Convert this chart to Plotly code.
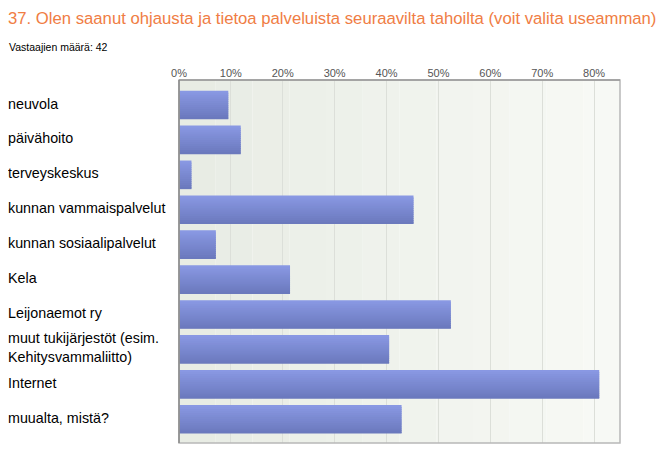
import plotly.graph_objects as go

categories = [
    "neuvola",
    "päivähoito",
    "terveyskeskus",
    "kunnan vammaispalvelut",
    "kunnan sosiaalipalvelut",
    "Kela",
    "Leijonaemot ry",
    "muut tukijärjestöt (esim.<br>Kehitysvammaliitto)",
    "Internet",
    "muualta, mistä?",
]
percent = [9.5, 11.9, 2.4, 45.2, 7.1, 21.4, 52.4, 40.5, 81.0, 42.9]
tick_vals = [0, 10, 20, 30, 40, 50, 60, 70, 80]
tick_text = ["0%", "10%", "20%", "30%", "40%", "50%", "60%", "70%", "80%"]
title_text = "37. Olen saanut ohjausta ja tietoa palveluista seuraavilta tahoilta (voit valita useamman)"
subtitle_text = "Vastaajien määrä: 42"

FONT = "Liberation Sans, Arial, sans-serif"
PAD = 8  # page body margin
W, H = 672 - PAD, 453 - PAD
ML, MR, MT, MB = 179 - PAD, 52, 80 - PAD, 10
PW = W - ML - MR
PH = H - MT - MB

fig = go.Figure()

# bar drawn as horizontal slices to mimic the vertical gradient
BW = 0.82
NS = 14
top = (137, 152, 227)
bot = (107, 121, 189)
for s in range(NS):
    t = s / (NS - 1)
    c = tuple(int(round(top[k] + (bot[k] - top[k]) * t)) for k in range(3))
    extra = 0.04 if s < NS - 1 else 0.0
    fig.add_trace(go.Bar(
        x=percent, y=categories, orientation="h",
        width=BW / NS + extra, offset=-BW / 2 + s * BW / NS,
        marker=dict(color="rgb(%d,%d,%d)" % c, line=dict(width=0)),
        hoverinfo="x+y" if s == 0 else "skip",
    ))

# background gradient stripes (styling)
shapes = []
n = 12
c0 = (232, 236, 228)
c1 = (247, 249, 245)
for i in range(n):
    t = i / (n - 1)
    c = tuple(int(round(c0[k] + (c1[k] - c0[k]) * t)) for k in range(3))
    shapes.append(dict(type="rect", xref="paper", yref="paper",
                       x0=i / n, x1=(i + 1) / n, y0=0, y1=1,
                       fillcolor="rgb(%d,%d,%d)" % c, line=dict(width=0), layer="below"))
shapes.append(dict(type="rect", xref="paper", yref="paper", x0=0, x1=1, y0=0, y1=1,
                   line=dict(color="#b8b8b8", width=1.5), fillcolor="rgba(0,0,0,0)", layer="above"))
shapes.append(dict(type="line", xref="paper", yref="paper", x0=0, x1=1, y0=1, y1=1,
                   line=dict(color="#999999", width=1.5), layer="above"))
shapes.append(dict(type="line", xref="paper", yref="paper", x0=0, x1=0, y0=0, y1=1,
                   line=dict(color="#888888", width=1.5), layer="above"))

annotations = [
    dict(text=title_text, xref="paper", yref="paper",
         x=-(ML - 6 + PAD) / PW, y=1 + (MT - 18 + PAD) / PH,
         xanchor="left", yanchor="middle", showarrow=False,
         font=dict(family=FONT, size=16.7, color="#f07d44")),
    dict(text=subtitle_text, xref="paper", yref="paper",
         x=-(ML - 7 + PAD) / PW, y=1 + (MT - 47 + PAD) / PH,
         xanchor="left", yanchor="middle", showarrow=False,
         font=dict(family=FONT, size=10.5, color="#000000")),
]
for cat in categories:
    annotations.append(dict(
        text=cat, xref="paper", yref="y", x=-(ML - 6 + PAD) / PW, y=cat,
        yshift=1.5,
        xanchor="left", yanchor="middle", align="left", showarrow=False,
        font=dict(family=FONT, size=14.3, color="#000000")))

fig.update_layout(
    width=W, height=H,
    margin=dict(l=ML, r=MR, t=MT, b=MB),
    paper_bgcolor="white",
    plot_bgcolor="rgba(0,0,0,0)",
    showlegend=False,
    shapes=shapes,
    annotations=annotations,
    barmode="overlay",
    xaxis=dict(range=[0, 85], side="top", tickvals=tick_vals, ticktext=tick_text,
               showgrid=True, gridcolor="#dcdfd9", gridwidth=1, zeroline=False,
               ticks="", tickfont=dict(family=FONT, size=11, color="#555555"),
               fixedrange=True),
    yaxis=dict(categoryorder="array", categoryarray=categories, range=[9.68, -0.716],
               showticklabels=False, showgrid=False, zeroline=False, ticks="",
               fixedrange=True),
)

fig.write_html("out.html")
